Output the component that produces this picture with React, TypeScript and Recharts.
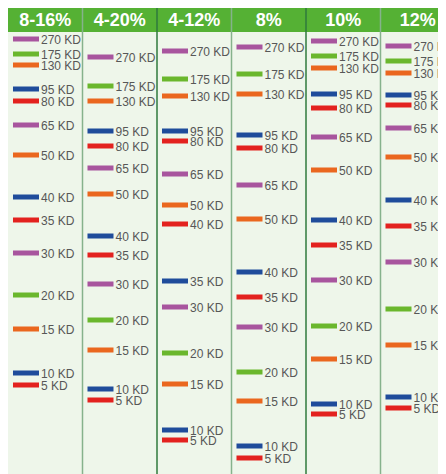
import { ScatterChart, Scatter, XAxis, YAxis, ReferenceArea, ReferenceLine } from 'recharts';

/* ───────── Data ───────── */

const LANES = ['8-16%', '4-20%', '4-12%', '8%', '10%', '12%'];

const MARKERS = [
  '270 KD', '175 KD', '130 KD', '95 KD', '80 KD', '65 KD', '50 KD',
  '40 KD', '35 KD', '30 KD', '20 KD', '15 KD', '10 KD', '5 KD',
];

// migration distance from top of gel, one array per lane
const lane1 = [7, 22, 33, 57, 69, 93, 123, 165, 188, 221, 263, 297, 341, 353];
const lane2 = [25, 54, 69, 99, 114, 136, 162, 204, 223, 252, 288, 318, 357, 368];
const lane3 = [19, 47, 64, 99, 109, 142, 173, 192, 249, 275, 321, 352, 398, 408];
const lane4 = [15, 42, 62, 103, 116, 153, 187, 240, 265, 295, 340, 369, 414, 426];
const lane5 = [9, 24, 36, 62, 76, 105, 138, 188, 213, 248, 294, 327, 372, 382];
const lane6 = [14, 29, 41, 63, 73, 96, 125, 168, 194, 230, 277, 313, 365, 376];

const PURPLE = '#a8559e';
const GREEN = '#6ab72d';
const ORANGE = '#ea671f';
const BLUE = '#1f4c9b';
const RED = '#e3221f';

const BAND_COLORS = [PURPLE, GREEN, ORANGE, BLUE, RED, PURPLE, ORANGE, BLUE, RED, PURPLE, GREEN, ORANGE, BLUE, RED];
// 4-12% lane has 40 KD red and 35 KD blue
const BAND_COLORS_LANE3 = [PURPLE, GREEN, ORANGE, BLUE, RED, PURPLE, ORANGE, RED, BLUE, PURPLE, GREEN, ORANGE, BLUE, RED];

const LANE_DATA = [lane1, lane2, lane3, lane4, lane5, lane6];

/* ───────── Theme ───────── */

const HEADER_GREEN = '#55b134';
const BODY_BG = '#eef6ea';
const DIVIDER_DARK = '#2f7a3c';
const DIVIDER_LIGHT = '#86b28c';

const WIDTH = 447;
const HEIGHT = 466;
const HEADER_H = 24;
const GEL_H = HEIGHT - HEADER_H;
const BAND_OFFSET = 0.067;

const points = LANE_DATA.flatMap((lane, li) =>
  lane.map((y, mi) => ({
    x: li + BAND_OFFSET,
    y,
    label: MARKERS[mi],
    color: li === 2 ? BAND_COLORS_LANE3[mi] : BAND_COLORS[mi],
  })),
);

function Band(props: any) {
  const { cx, cy, payload } = props;
  if (cx == null || cy == null) return null;
  return (
    <g>
      <rect x={cx} y={cy - 2.5} width={26} height={5} fill={payload.color} />
      <text x={cx + 28} y={cy + 4.5} fontSize={12} fill="#575757">
        {payload.label}
      </text>
    </g>
  );
}

export default function App() {
  return (
    <div style={{ width: WIDTH, height: HEIGHT, fontFamily: '"Liberation Sans", Arial, sans-serif' }}>
      <ScatterChart width={WIDTH} height={HEIGHT} margin={{ top: 0, right: 0, bottom: 0, left: 0 }}>
        <XAxis type="number" dataKey="x" domain={[0, 6]} hide />
        <YAxis type="number" dataKey="y" domain={[-HEADER_H, GEL_H]} reversed hide />
        <ReferenceArea x1={0} x2={6} y1={0} y2={GEL_H} fill={BODY_BG} fillOpacity={1} stroke="none" />
        {LANES.map((lane, i) => (
          <ReferenceArea
            key={lane}
            x1={i}
            x2={i + 1}
            y1={-HEADER_H}
            y2={0}
            fill={HEADER_GREEN}
            fillOpacity={1}
            stroke="none"
            label={{ value: lane, position: 'center', fill: '#ffffff', fontSize: 18, fontWeight: 'bold' }}
          />
        ))}
        {[1, 2, 3, 4, 5].map((x) => (
          <ReferenceLine
            key={x}
            x={x}
            stroke={x % 2 === 0 ? DIVIDER_DARK : DIVIDER_LIGHT}
            strokeWidth={1.5}
          />
        ))}
        <Scatter data={points} shape={<Band />} isAnimationActive={false} />
      </ScatterChart>
    </div>
  );
}
